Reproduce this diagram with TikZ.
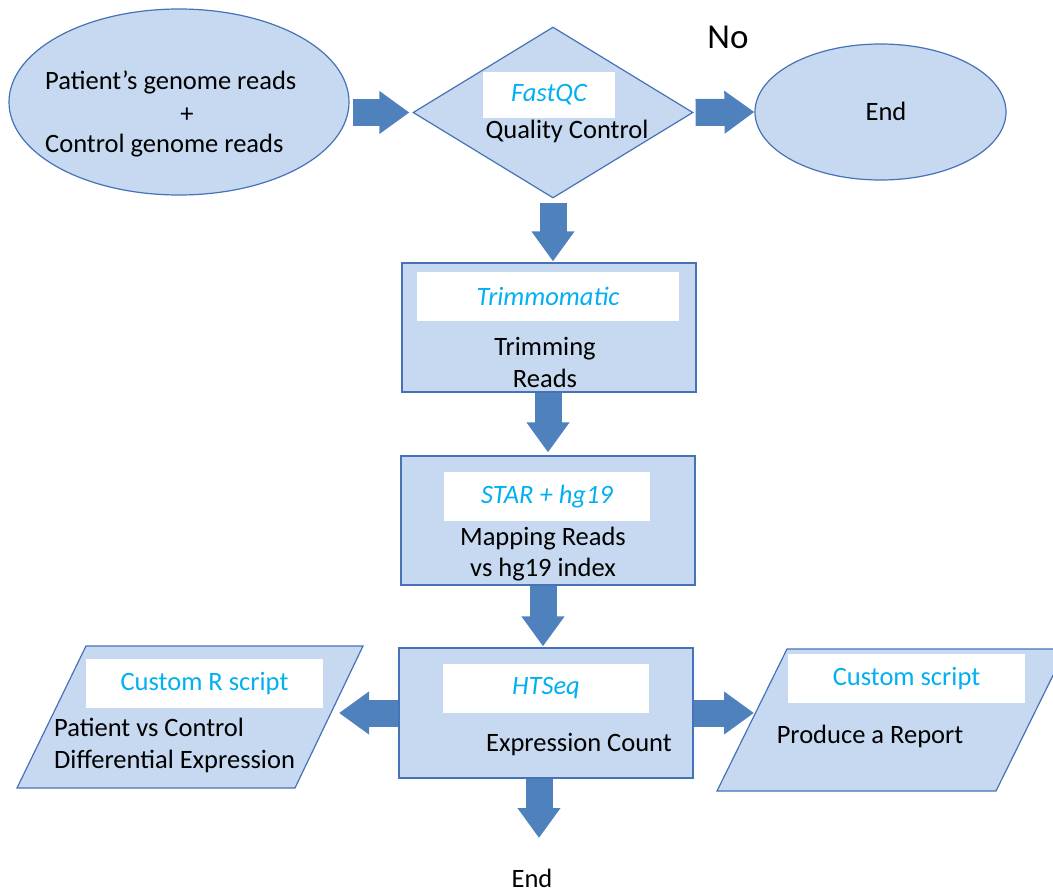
\documentclass[tikz,border=0pt]{standalone}
\usepackage{fontspec}
\setmainfont{Carlito}
\usetikzlibrary{shapes.geometric,arrows.meta}
\definecolor{boxfill}{HTML}{C6D9F0}
\definecolor{boxline}{HTML}{4672B8}
\definecolor{arrowblue}{HTML}{4F81BD}
\definecolor{toolcyan}{HTML}{00B0F0}
\begin{document}
\begin{tikzpicture}[x=1pt,y=-1pt,
  shapebox/.style={fill=boxfill,draw=boxline,line width=1.2pt,inner sep=0pt},
  stepbox/.style={shapebox,rectangle,minimum width=294pt,minimum height=129pt},
  toolbox/.style={fill=white,inner sep=0pt,minimum height=49pt,text=toolcyan,
    font=\fontsize{26.5}{31}\selectfont},
  label/.style={inner sep=0pt,font=\fontsize{26.5}{31.5}\selectfont,align=center},
  flow/.style={draw=arrowblue,line width=27pt,
    -{Triangle[length=30pt 0 0,width=41pt 0 0]}},
]
\useasboundingbox (0,0) rectangle (1053,891);
\clip (0,0) rectangle (1053,891);

% input reads
\node[shapebox,ellipse,minimum width=340pt,minimum height=186pt] (in) at (179,102) {};
\node[label,anchor=west] at (45,82) {Patient’s genome reads};
\node[label] at (187,115) {+};
\node[label,anchor=west] at (45,146) {Control genome reads};

% quality control decision
\node[shapebox,diamond,minimum width=280pt,minimum height=171pt] (qc) at (553,112.5) {};
\node[toolbox,minimum width=132pt,minimum height=46pt] (qctool) at (549,95) {\itshape FastQC};
\node[label] (qctext) at (567,131) {Quality Control};
\node[inner sep=0pt,font=\fontsize{35}{40}\selectfont] (no) at (728,37) {No};

% early end
\node[shapebox,ellipse,minimum width=251pt,minimum height=136pt] (endA) at (880.5,112) {};
\node[label] at (886,111) {End};

% trimming
\node[stepbox] (trim) at (549,327.5) {};
\node[toolbox,minimum width=262pt] at (548,296.5) {\itshape Trimmomatic};
\node[label] at (545,362.5) {Trimming\\Reads};

% mapping
\node[stepbox] (map) at (548,520.5) {};
\node[toolbox,minimum width=206pt] at (547,496.5) {\itshape STAR + hg19};
\node[label] at (543,554) {Mapping Reads\\vs hg19 index};

% counting
\node[stepbox,minimum height=130pt] (count) at (546,713) {};
\node[toolbox,minimum width=206pt] at (546,688.5) {\itshape HTSeq};
\node[label] at (579,745) {Expression Count};

% differential expression
\draw[shapebox] (17,788) -- (86,646) -- (363,646) -- (295,788) -- cycle;
\coordinate (diffin) at (339,713);
\node[toolbox,minimum width=237pt] at (204.5,683.5) {Custom R script};
\node[label,align=left,anchor=west] at (54,745.5) {Patient vs Control\\Differential Expression};

% report
\draw[shapebox] (717,791) -- (787,649) -- (1066,649) -- (996,791) -- cycle;
\coordinate (repin) at (754,713);
\node[toolbox,minimum width=237pt] at (906.5,678.5) {Custom script};
\node[label] at (870,736) {Produce a Report};

% final end
\node[label] (endB) at (532,878) {End};

% flow arrows
\draw[flow] ([xshift=3pt]in.east |- qc.west) -- ([xshift=-3pt]qc.west);
\draw[flow] ([xshift=2pt]qc.east) -- (endA.west);
\draw[flow] ([yshift=-4pt]qc.south) -- ([yshift=1pt]qc.south |- trim.north);
\draw[flow] ([xshift=-1pt]trim.south) -- ([xshift=-1pt,yshift=3pt]trim.south |- map.north);
\draw[flow] ([xshift=-5pt]map.south) -- ([xshift=-5pt,yshift=1pt]map.south |- count.north);
\draw[flow] ([xshift=-7pt]count.south) -- ([xshift=-7pt]count.south |- 0,838);
\draw[flow] (count.east) -- (repin);
\draw[flow] (count.west) -- (diffin);
\end{tikzpicture}
\end{document}
